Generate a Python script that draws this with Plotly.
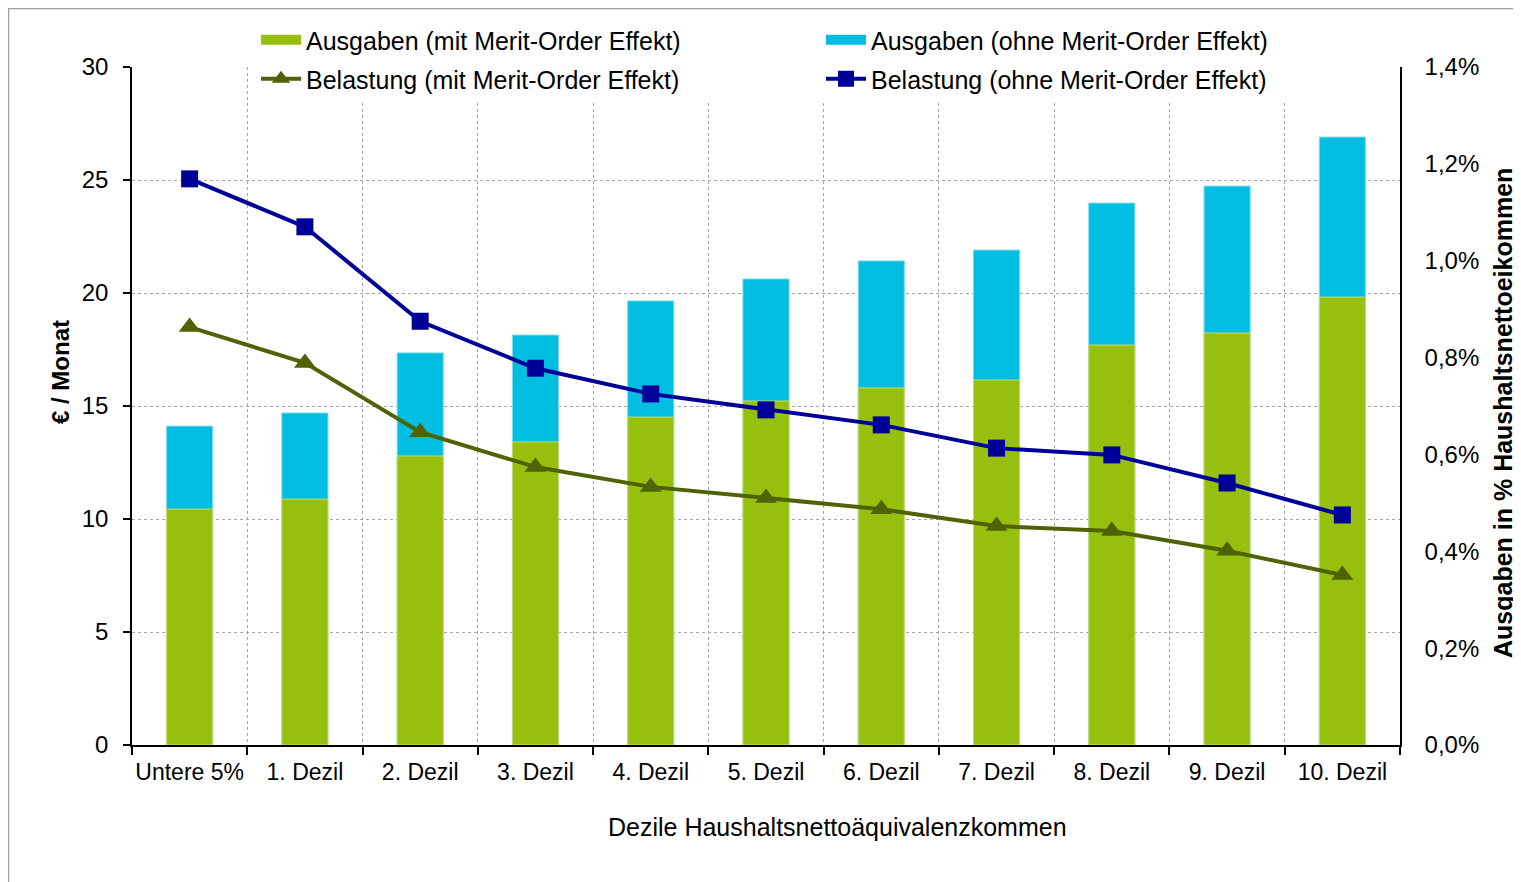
import plotly.graph_objects as go

categories = ["Untere 5%", "1. Dezil", "2. Dezil", "3. Dezil", "4. Dezil", "5. Dezil",
              "6. Dezil", "7. Dezil", "8. Dezil", "9. Dezil", "10. Dezil"]
ausgaben_mit = [10.44, 10.88, 12.79, 13.41, 14.51, 15.22, 15.80, 16.15, 17.70, 18.23, 19.82]
ausgaben_ohne = [14.11, 14.69, 17.35, 18.14, 19.65, 20.62, 21.42, 21.90, 23.98, 24.73, 26.90]
belastung_mit = [0.863, 0.789, 0.646, 0.574, 0.533, 0.510, 0.487, 0.452, 0.442, 0.401, 0.351]
belastung_ohne = [1.169, 1.070, 0.875, 0.778, 0.725, 0.692, 0.661, 0.613, 0.599, 0.541, 0.475]

x_title = "Dezile Haushaltsnettoäquivalenzkommen"
y_title = "€ / Monat"
y2_title = "Ausgaben in % Haushaltsnettoeikommen"

FONT = "Liberation Sans, Arial, sans-serif"
GREEN = "#97c00e"
CYAN = "#00bee2"
OLIVE = "#4f6205"
NAVY = "#000099"
GRID = "#a6a6a6"

fig = go.Figure()
fig.add_trace(go.Bar(x=categories, y=ausgaben_ohne, name="Ausgaben (ohne Merit-Order Effekt)",
                     marker=dict(color=CYAN, line=dict(color="#7fd9ef", width=1)),
                     width=0.4, showlegend=False, hoverinfo="skip"))
fig.add_trace(go.Bar(x=categories, y=ausgaben_mit, name="Ausgaben (mit Merit-Order Effekt)",
                     marker=dict(color=GREEN, line=dict(color="#c3dc72", width=1)),
                     width=0.4, showlegend=False, hoverinfo="skip"))
# legend swatches for the bars (wide rectangles, as in the original)
fig.add_trace(go.Scatter(x=[None], y=[None], mode="lines", name="Ausgaben (mit Merit-Order Effekt)",
                         line=dict(color=GREEN, width=13), legend="legend", legendrank=1,
                         hoverinfo="skip"))
fig.add_trace(go.Scatter(x=[None], y=[None], mode="lines", name="Ausgaben (ohne Merit-Order Effekt)",
                         line=dict(color=CYAN, width=13), legend="legend", legendrank=2,
                         hoverinfo="skip"))
fig.add_trace(go.Scatter(x=categories, y=belastung_mit, name="Belastung (mit Merit-Order Effekt)",
                         mode="lines+markers", yaxis="y2",
                         line=dict(color=OLIVE, width=4),
                         marker=dict(symbol="triangle-up", size=19, color=OLIVE),
                         legend="legend2", legendrank=1, hoverinfo="skip"))
fig.add_trace(go.Scatter(x=categories, y=belastung_ohne, name="Belastung (ohne Merit-Order Effekt)",
                         mode="lines+markers", yaxis="y2",
                         line=dict(color=NAVY, width=4),
                         marker=dict(symbol="square", size=17, color=NAVY),
                         legend="legend2", legendrank=2, hoverinfo="skip"))

OFF = 8  # page offset of the figure
W, H = 1521 - OFF, 882 - OFF
L, R, T, B = 132 - OFF, 121, 0, 137
PW, PH = W - L - R, H - T - B
PLOT_TOP = 67  # absolute pixel row of the plot's top edge
DOMAIN_TOP = (PH - (PLOT_TOP - OFF)) / PH

def px_x(p):
    return (p - OFF - L) / PW

def px_y(p):
    return (H - B - (p - OFF)) / PH

legend_common = dict(orientation="h", xanchor="left", yanchor="middle",
                     bgcolor="white", borderwidth=0,
                     font=dict(family=FONT, size=25, color="black"),
                     entrywidth=510, entrywidthmode="pixels", itemwidth=40,
                     traceorder="normal")

fig.update_layout(
    width=W, height=H,
    margin=dict(l=L, r=R, t=T, b=B, pad=0),
    paper_bgcolor="white", plot_bgcolor="white",
    barmode="overlay",
    separators=",.",
    font=dict(family=FONT, size=24, color="black"),
    legend=dict(x=px_x(256), y=px_y(40), **legend_common),
    legend2=dict(x=px_x(256), y=px_y(79), **legend_common),
    xaxis=dict(
        type="category", range=[-0.5, 10.5], tickson="boundaries",
        ticks="outside", ticklen=8, tickwidth=1.5, tickcolor="black",
        showline=True, linecolor="black", linewidth=1.5,
        showgrid=True, gridcolor=GRID, gridwidth=1, griddash="dot",
        ticklabelstandoff=6, tickangle=0, automargin=False,
        tickfont=dict(family=FONT, size=23, color="black"),
    ),
    yaxis=dict(
        domain=[0, DOMAIN_TOP],
        range=[0, 30], dtick=5, tick0=0,
        ticks="outside", ticklen=7, tickwidth=1.5, tickcolor="black",
        showline=True, linecolor="black", linewidth=1.5,
        showgrid=True, gridcolor=GRID, gridwidth=1, griddash="dot",
        zeroline=False, ticklabelstandoff=10, automargin=False,
        tickfont=dict(family=FONT, size=24, color="black"),
    ),
    yaxis2=dict(
        overlaying="y", side="right", range=[0, 1.4], dtick=0.2, tick0=0,
        tickformat=".1f", ticksuffix="%",
        ticks="", showline=True, linecolor="black", linewidth=1.5,
        showgrid=False, zeroline=False, ticklabelstandoff=18, automargin=False,
        tickfont=dict(family=FONT, size=24, color="black"),
    ),
    annotations=[
        dict(text=x_title, xref="paper", yref="paper", x=px_x(837), y=px_y(827),
             xanchor="center", yanchor="middle", showarrow=False,
             font=dict(family=FONT, size=25, color="black")),
        dict(text="<b>" + y_title + "</b>", xref="paper", yref="paper",
             x=px_x(60), y=px_y(372), textangle=-90,
             xanchor="center", yanchor="middle", showarrow=False,
             font=dict(family=FONT, size=24, color="black")),
        dict(text="<b>" + y2_title + "</b>", xref="paper", yref="paper",
             x=px_x(1503), y=px_y(413), textangle=-90,
             xanchor="center", yanchor="middle", showarrow=False,
             font=dict(family=FONT, size=25, color="black")),
    ],
    shapes=[dict(type="rect", xref="paper", yref="paper",
                 x0=px_x(8.5), x1=px_x(1535), y0=px_y(895), y1=px_y(8.5),
                 line=dict(color="#a0a0a0", width=1.5), fillcolor="rgba(0,0,0,0)",
                 layer="below")],
)

fig.write_html("out.html")
